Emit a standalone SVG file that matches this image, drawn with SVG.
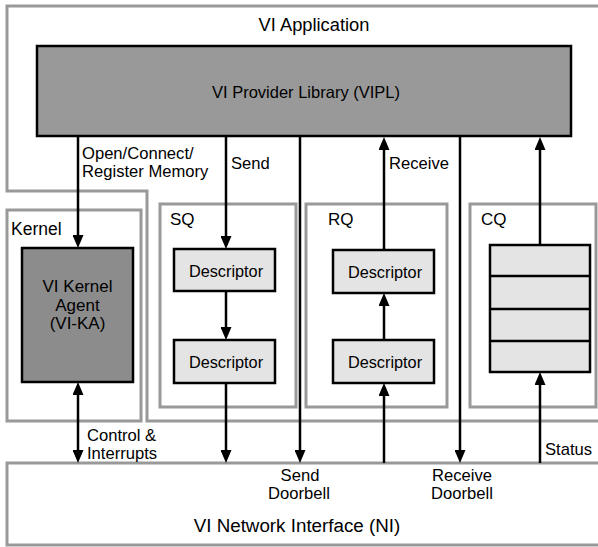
<svg xmlns="http://www.w3.org/2000/svg" width="598" height="547" viewBox="0 0 598 547">
<style>
text{font-family:"Liberation Sans",Arial,sans-serif;fill:#000}
.frame{fill:none;stroke:#999;stroke-width:3}
.dark{stroke:#000;stroke-width:2.5}
.desc{fill:#e4e4e4;stroke:#000;stroke-width:2.5}
.arr{stroke:#000;stroke-width:2.5;fill:none;marker-end:url(#ah)}
.lbl{font-size:16.6px}
</style>
<defs>
<marker id="ah" markerUnits="userSpaceOnUse" markerWidth="13" markerHeight="11" refX="2" refY="5.5" orient="auto-start-reverse" viewBox="0 0 13 11">
<path d="M0,0 L13,5.5 L0,11 z" fill="#000"/>
</marker>
</defs>
<rect width="598" height="547" fill="#fff"/>
<g id="vi-application">
<path class="frame" d="M598,6 H7 V191 H147 V421 H598"/>
<text x="314" y="31" font-size="18.3" text-anchor="middle">VI Application</text>
</g>
<g id="vipl">
<rect class="dark" x="37" y="46" width="534" height="90" fill="#999"/>
<text x="306" y="98" font-size="16.5" text-anchor="middle">VI Provider Library (VIPL)</text>
</g>
<g id="kernel">
<rect class="frame" x="7" y="210" width="134" height="211"/>
<text x="11" y="235" font-size="17.5">Kernel</text>
</g>
<g id="vi-ka">
<rect class="dark" x="22" y="248" width="111" height="134" fill="#8c8c8c"/>
<text font-size="17" text-anchor="middle"><tspan x="77.5" y="292">VI Kernel</tspan><tspan x="77.5" y="311">Agent</tspan><tspan x="77.5" y="329">(VI-KA)</tspan></text>
</g>
<g id="sq">
<rect class="frame" x="160" y="204" width="136" height="203"/>
<text x="170" y="225" font-size="17">SQ</text>
</g>
<g id="sq-desc1">
<rect class="desc" x="174" y="249" width="101" height="42"/>
<text x="226" y="277" font-size="16.3" text-anchor="middle">Descriptor</text>
</g>
<g id="sq-desc2">
<rect class="desc" x="174" y="340" width="101" height="43"/>
<text x="226" y="368" font-size="16.3" text-anchor="middle">Descriptor</text>
</g>
<g id="rq">
<rect class="frame" x="306" y="204" width="141" height="203"/>
<text x="328" y="225" font-size="17">RQ</text>
</g>
<g id="rq-desc1">
<rect class="desc" x="333" y="250" width="101" height="43"/>
<text x="385" y="278" font-size="16.3" text-anchor="middle">Descriptor</text>
</g>
<g id="rq-desc2">
<rect class="desc" x="333" y="340" width="101" height="43"/>
<text x="385" y="368" font-size="16.3" text-anchor="middle">Descriptor</text>
</g>
<g id="cq">
<rect class="frame" x="470" y="204" width="126" height="203"/>
<text x="481" y="225" font-size="17">CQ</text>
</g>
<g id="cq-entries">
<rect class="desc" x="490" y="245" width="100" height="127"/>
<path d="M490,276 H590 M490,309 H590 M490,341 H590" stroke="#000" stroke-width="2.5"/>
</g>
<g id="ni">
<path class="frame" d="M598,463 H7 V545 H598"/>
<text x="297" y="532" font-size="18.8" text-anchor="middle">VI Network Interface (NI)</text>
</g>
<g id="connectors">
<line class="arr" x1="78" y1="137" x2="78" y2="237"/>
<line class="arr" x1="226" y1="137" x2="226" y2="238"/>
<line class="arr" x1="226" y1="291" x2="226" y2="329"/>
<line class="arr" x1="226" y1="383" x2="226" y2="452"/>
<line class="arr" x1="300" y1="137" x2="300" y2="452"/>
<line class="arr" x1="384" y1="250" x2="384" y2="148"/>
<line class="arr" x1="384" y1="340" x2="384" y2="304"/>
<line class="arr" x1="384" y1="463" x2="384" y2="394"/>
<line class="arr" x1="460" y1="137" x2="460" y2="452"/>
<line class="arr" x1="540" y1="245" x2="540" y2="148"/>
<line class="arr" x1="540" y1="463" x2="540" y2="383"/>
<line class="arr" x1="78" y1="393" x2="78" y2="452" marker-start="url(#ah)"/>
<text class="lbl"><tspan x="82" y="159">Open/Connect/</tspan><tspan x="82" y="177">Register Memory</tspan></text>
<text class="lbl" x="231" y="169">Send</text>
<text class="lbl" x="389" y="169">Receive</text>
<text class="lbl"><tspan x="87" y="441">Control &amp;</tspan><tspan x="87" y="459">Interrupts</tspan></text>
<text class="lbl" text-anchor="middle"><tspan x="300" y="481">Send</tspan><tspan x="299" y="499">Doorbell</tspan></text>
<text class="lbl" text-anchor="middle"><tspan x="462" y="481">Receive</tspan><tspan x="462" y="499">Doorbell</tspan></text>
<text class="lbl" x="545" y="455">Status</text>
</g>
</svg>
